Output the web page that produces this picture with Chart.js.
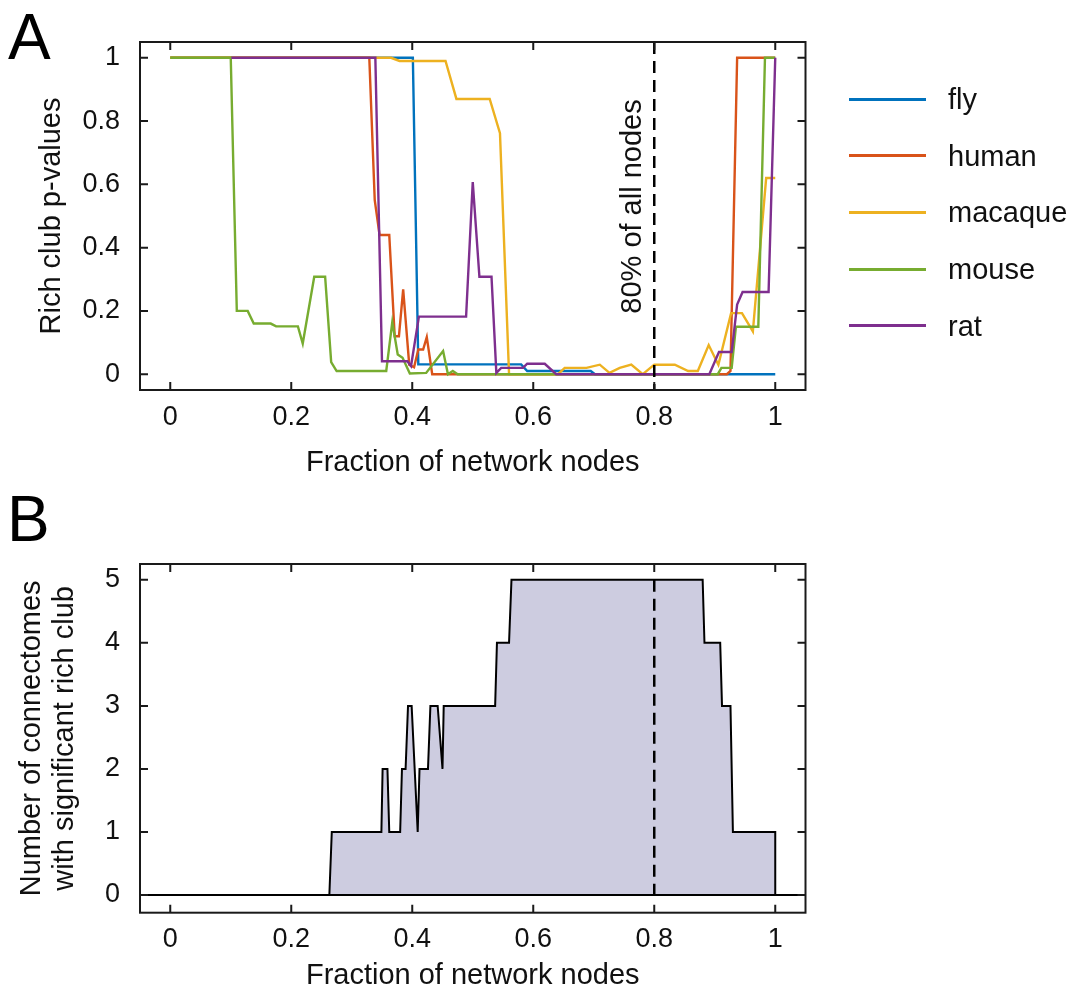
<!DOCTYPE html>
<html>
<head>
<meta charset="utf-8">
<script src="https://cdn.jsdelivr.net/npm/chart.js@4.4.1/dist/chart.umd.min.js"></script>
<style>
  html, body { margin: 0; padding: 0; background: #fff; }
  body { width: 1077px; height: 1005px; position: relative; overflow: hidden;
         font-family: "Liberation Sans", Arial, Helvetica, sans-serif; color: #111; }
  canvas { position: absolute; left: 0; }
  #canvasA { top: 0; }
  #canvasB { top: 490px; }
  .panel { position: absolute; font-size: 64px; line-height: 64px; color: #000; }
  #legend { position: absolute; left: 849px; top: 0; width: 228px; height: 400px; }
  .item { position: absolute; left: 0; height: 34px; display: flex; align-items: center; white-space: nowrap; }
  .swatch { width: 77px; height: 3px; margin-right: 22px; }
  .item span { font-size: 29px; line-height: 34px; }
</style>
</head>
<body>
<canvas id="canvasA" width="1077" height="490"></canvas>
<canvas id="canvasB" width="1077" height="515"></canvas>
<div class="panel" style="left:8px; top:5px;">A</div>
<div class="panel" style="left:7px; top:487px;">B</div>
<div id="legend"></div>

<script>
// ---- data -----------------------------------------------------------
const xTicks = [0, 0.2, 0.4, 0.6, 0.8, 1];
const pTicks = [0, 0.2, 0.4, 0.6, 0.8, 1];
const countTicks = [0, 1, 2, 3, 4, 5];
const cutoffFraction = 0.8;

const species = ['fly', 'human', 'macaque', 'mouse', 'rat'];

// rich club p-values: [fraction of nodes, p]
const fly = [[0, 1], [0.401, 1], [0.41, 0.031], [0.58, 0.031], [0.59, 0.01], [0.695, 0.01],
  [0.702, 0], [1, 0]];
const human = [[0, 1], [0.329, 1], [0.338, 0.55], [0.346, 0.44], [0.362, 0.44], [0.371, 0.12],
  [0.378, 0.12], [0.385, 0.268], [0.395, 0.03], [0.403, 0.022], [0.41, 0.078], [0.418, 0.078],
  [0.424, 0.117], [0.433, 0], [0.92, 0], [0.926, 0.01], [0.937, 1], [1, 1]];
const macaque = [[0, 1], [0.365, 1], [0.379, 0.99], [0.455, 0.99], [0.473, 0.87], [0.528, 0.87],
  [0.545, 0.762], [0.56, 0], [0.641, 0], [0.652, 0.02], [0.688, 0.02], [0.71, 0.03],
  [0.726, 0.004], [0.743, 0.02], [0.762, 0.03], [0.781, 0], [0.8, 0.03], [0.834, 0.03],
  [0.856, 0.01], [0.872, 0.01], [0.89, 0.092], [0.906, 0.03], [0.927, 0.193], [0.945, 0.193],
  [0.963, 0.135], [0.985, 0.62], [1, 0.62]];
const mouse = [[0, 1], [0.1, 1], [0.11, 0.2], [0.128, 0.2], [0.138, 0.16], [0.166, 0.16],
  [0.175, 0.151], [0.211, 0.151], [0.219, 0.097], [0.238, 0.308], [0.256, 0.308], [0.266, 0.038],
  [0.275, 0.01], [0.357, 0.01], [0.367, 0.165], [0.376, 0.062], [0.384, 0.052], [0.396, 0.002],
  [0.423, 0.004], [0.451, 0.073], [0.459, 0], [0.467, 0.01], [0.475, 0], [0.905, 0],
  [0.911, 0.02], [0.928, 0.02], [0.935, 0.15], [0.972, 0.15], [0.983, 1], [1, 1]];
const rat = [[0.101, 1], [0.339, 1], [0.35, 0.041], [0.392, 0.041], [0.398, 0.026],
  [0.411, 0.182], [0.489, 0.182], [0.5, 0.607], [0.511, 0.308], [0.531, 0.308], [0.539, 0.004],
  [0.547, 0.02], [0.583, 0.02], [0.59, 0.033], [0.619, 0.033], [0.638, 0], [0.891, 0],
  [0.907, 0.07], [0.928, 0.07], [0.937, 0.22], [0.946, 0.26], [0.989, 0.26], [1, 1]];

// number of connectomes with a significant rich club: [fraction of nodes, count]
const sigCount = [[0, 0], [0.263, 0], [0.267, 1], [0.349, 1], [0.351, 2], [0.359, 2], [0.362, 1],
  [0.38, 1], [0.383, 2], [0.389, 2], [0.393, 3], [0.399, 3], [0.409, 1], [0.412, 2], [0.426, 2],
  [0.43, 3], [0.442, 3], [0.45, 2], [0.452, 3], [0.537, 3], [0.54, 4], [0.56, 4], [0.564, 5],
  [0.88, 5], [0.883, 4], [0.909, 4], [0.912, 3], [0.926, 3], [0.93, 1], [1, 1], [1, 0]];

const pSeries = [fly, human, macaque, mouse, rat];

// ---- styling ----------------------------------------------------------
const speciesColors = ['#0072BD', '#D95319', '#EDB120', '#77AC30', '#7E2F8E'];
const FONT = '"Liberation Sans", Arial, Helvetica, sans-serif';
const INK = '#111';

const toPoints = arr => arr.map(([x, y]) => ({ x, y }));
const plainNumber = v => String(Math.round(v * 1000) / 1000);

// box, inward ticks, cutoff marker and optional zero line
const framePlugin = {
  id: 'frame',
  afterDatasetsDraw(chart, args, opts) {
    const { ctx, chartArea: a, scales: { x, y } } = chart;
    ctx.save();
    if (opts.zeroLine) {
      const y0 = y.getPixelForValue(0);
      ctx.strokeStyle = '#000'; ctx.lineWidth = 2;
      ctx.beginPath(); ctx.moveTo(a.left, y0); ctx.lineTo(a.right, y0); ctx.stroke();
    }
    // cutoff line
    const xc = x.getPixelForValue(cutoffFraction);
    const yTop = opts.cutSpan ? y.getPixelForValue(opts.cutSpan[1]) : a.top;
    const yBot = opts.cutSpan ? y.getPixelForValue(opts.cutSpan[0]) : a.bottom;
    ctx.strokeStyle = '#000'; ctx.lineWidth = 2.5;
    ctx.setLineDash([12, 7]);
    ctx.beginPath(); ctx.moveTo(xc, yTop); ctx.lineTo(xc, yBot); ctx.stroke();
    ctx.setLineDash([]);
    // frame
    ctx.strokeStyle = '#1a1a1a'; ctx.lineWidth = 2;
    ctx.strokeRect(a.left, a.top, a.right - a.left, a.bottom - a.top);
    const L = 8;
    ctx.beginPath();
    x.ticks.forEach(t => {
      const px = x.getPixelForValue(t.value);
      ctx.moveTo(px, a.bottom); ctx.lineTo(px, a.bottom - L);
      ctx.moveTo(px, a.top); ctx.lineTo(px, a.top + L);
    });
    y.ticks.forEach(t => {
      const py = y.getPixelForValue(t.value);
      ctx.moveTo(a.left, py); ctx.lineTo(a.left + L, py);
      ctx.moveTo(a.right, py); ctx.lineTo(a.right - L, py);
    });
    ctx.stroke();
    if (opts.label) {
      ctx.fillStyle = INK;
      ctx.font = '29px ' + FONT;
      ctx.translate(xc - 13, y.getPixelForValue(opts.labelAt));
      ctx.rotate(-Math.PI / 2);
      ctx.textAlign = 'center';
      ctx.textBaseline = 'alphabetic';
      ctx.fillText(opts.label, 0, 0);
    }
    ctx.restore();
  }
};

function axes(yMin, yMax, yTickValues, yTitle, xBoxHeight, xTitlePad, yTitlePad) {
  return {
    x: {
      type: 'linear', min: -0.05, max: 1.05,
      afterBuildTicks: s => { s.ticks = xTicks.map(v => ({ value: v })); },
      afterFit: s => { s.height = xBoxHeight; },
      grid: { display: false },
      border: { display: false },
      ticks: { color: INK, font: { family: FONT, size: 27 }, padding: 3, maxRotation: 0,
               callback: plainNumber },
      title: { display: true, text: 'Fraction of network nodes', color: INK,
               font: { family: FONT, size: 29 }, padding: { top: 0, bottom: xTitlePad } }
    },
    y: {
      type: 'linear', min: yMin, max: yMax,
      afterBuildTicks: s => { s.ticks = yTickValues.map(v => ({ value: v })); },
      afterFit: s => { s.width = 140; },
      grid: { display: false },
      border: { display: false },
      ticks: { color: INK, font: { family: FONT, size: 27 }, padding: 12, callback: plainNumber },
      title: { display: true, text: yTitle, color: INK,
               font: { family: FONT, size: 29, lineHeight: 1.12 }, padding: { top: yTitlePad, bottom: 0 } }
    }
  };
}

// ---- panel A: p-values per species (later species drawn on top) ----------
new Chart(document.getElementById('canvasA'), {
  type: 'line',
  data: {
    datasets: pSeries.map((s, i) => ({
      label: species[i],
      data: toPoints(s),
      borderColor: speciesColors[i],
      borderWidth: 2.4,
      pointRadius: 0,
      tension: 0,
      fill: false,
      order: pSeries.length - i
    }))
  },
  options: {
    responsive: false, animation: false, devicePixelRatio: 1, events: [],
    layout: { padding: { left: 0, top: 42, right: 271.5, bottom: 0 } },
    plugins: {
      legend: { display: false }, tooltip: { enabled: false },
      frame: { label: '80% of all nodes', labelAt: 0.53 }
    },
    scales: axes(-0.05, 1.05, pTicks, 'Rich club p-values', 100, 10, 36)
  },
  plugins: [framePlugin]
});

// ---- panel B: count of significant connectomes ----------------------------
new Chart(document.getElementById('canvasB'), {
  type: 'line',
  data: {
    datasets: [{
      label: 'significant',
      data: toPoints(sigCount),
      borderColor: '#000',
      borderWidth: 2,
      backgroundColor: '#cdcce0',
      pointRadius: 0,
      tension: 0,
      fill: 'origin'
    }]
  },
  options: {
    responsive: false, animation: false, devicePixelRatio: 1, events: [],
    layout: { padding: { left: 0, top: 74, right: 271.5, bottom: 0 } },
    plugins: {
      legend: { display: false }, tooltip: { enabled: false },
      frame: { zeroLine: true, cutSpan: [0, 5] }
    },
    scales: axes(-0.28, 5.25, countTicks,
      ['Number of connectomes', 'with significant rich club'], 92.3, 12, 16)
  },
  plugins: [framePlugin]
});

// ---- legend -------------------------------------------------------------
const legendCenters = [99, 155.7, 212.3, 269, 325.7];
const legend = document.getElementById('legend');
species.forEach((name, i) => {
  const item = document.createElement('div');
  item.className = 'item';
  item.style.top = (legendCenters[i] - 17) + 'px';
  const sw = document.createElement('div');
  sw.className = 'swatch';
  sw.style.background = speciesColors[i];
  const label = document.createElement('span');
  label.textContent = name;
  item.appendChild(sw);
  item.appendChild(label);
  legend.appendChild(item);
});
</script>
</body>
</html>
